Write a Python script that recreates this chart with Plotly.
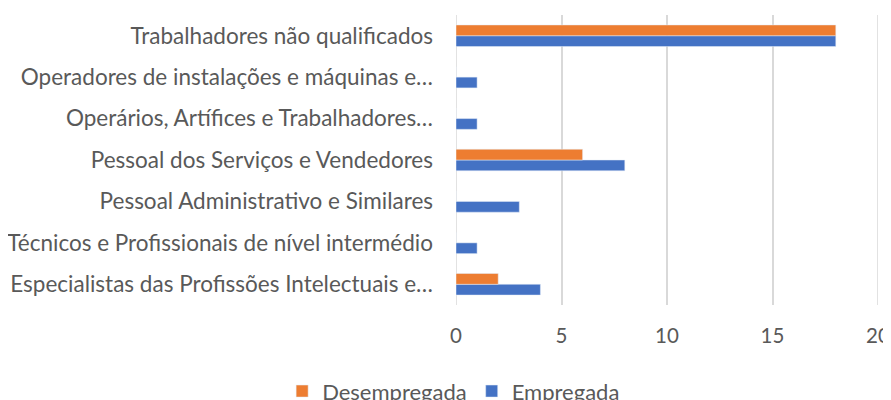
import plotly.graph_objects as go

categories = [
    "Especialistas das Profissões Intelectuais e…",
    "Técnicos e Profissionais de nível intermédio",
    "Pessoal Administrativo e Similares",
    "Pessoal dos Serviços e Vendedores",
    "Operários, Artífices e Trabalhadores…",
    "Operadores de instalações e máquinas e…",
    "Trabalhadores não qualificados",
]
empregada = [4, 1, 3, 8, 1, 1, 18]
desempregada = [2, 0, 0, 6, 0, 0, 18]
x_ticks = [0, 5, 10, 15, 20]

fig = go.Figure()
fig.add_trace(go.Bar(y=categories, x=empregada, name="Empregada", orientation="h",
                     marker=dict(color="#4472C4")))
fig.add_trace(go.Bar(y=categories, x=desempregada, name="Desempregada", orientation="h",
                     marker=dict(color="#ED7D31")))

font_family = "Lato, Open Sans, sans-serif"
fig.update_layout(
    width=883, height=392,
    margin=dict(l=448, r=13, t=7, b=95, autoexpand=False),
    paper_bgcolor="white", plot_bgcolor="white",
    barmode="group", bargap=0.48, bargroupgap=0,
    font=dict(family=font_family, size=22.5, color="#595959"),
    legend=dict(orientation="h", traceorder="reversed", x=-0.412, xanchor="left",
                y=-0.225, yanchor="top", font=dict(size=22, color="#595959"),
                itemwidth=30, tracegroupgap=0),
    showlegend=True,
)
fig.update_xaxes(range=[0, 20], tickvals=x_ticks, showgrid=True, gridcolor="#D9D9D9",
                 gridwidth=1.5, zeroline=False, showline=False, ticks="",
                 ticklabelstandoff=16, automargin=False, ticklabeloverflow="allow",
                 tickfont=dict(size=20.5))
fig.update_yaxes(showgrid=False, ticks="", showline=False, ticklabelstandoff=22,
                 categoryorder="array", categoryarray=categories, automargin=False)
for xv in (x_ticks[0], x_ticks[-1]):
    fig.add_shape(type="line", xref="x", yref="paper", x0=xv, x1=xv, y0=0, y1=1,
                  line=dict(color="#D9D9D9", width=1.5), layer="below")
fig.write_html("out.html")
